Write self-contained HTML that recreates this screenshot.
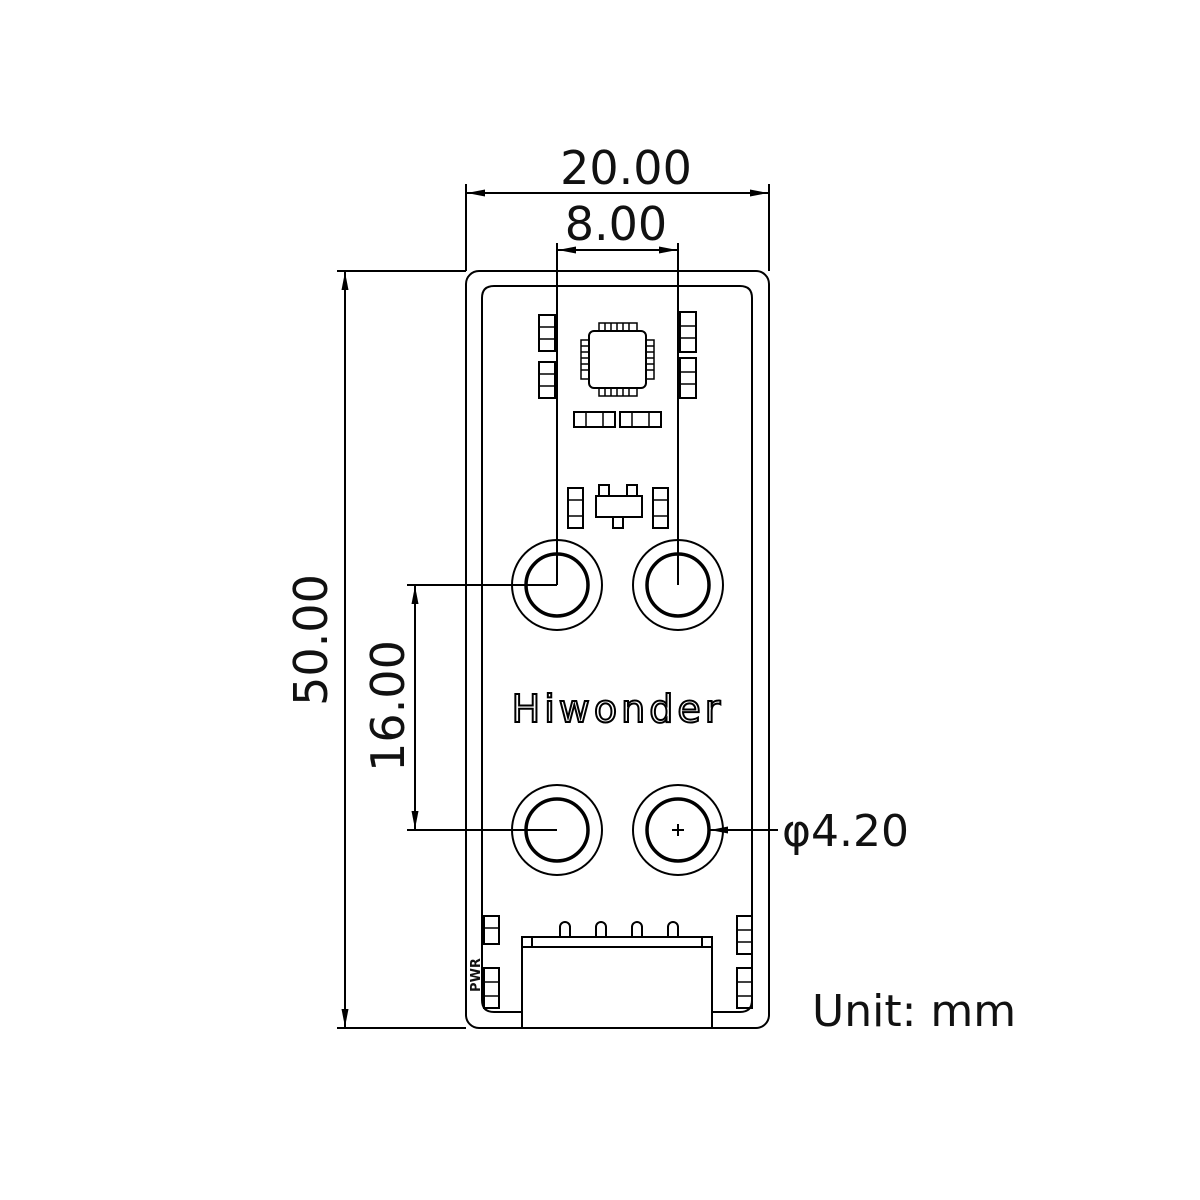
<!DOCTYPE html>
<html><head><meta charset="utf-8"><style>
html,body{margin:0;padding:0;background:#fff;}
svg{display:block}
text{font-family:"DejaVu Sans","Liberation Sans",sans-serif;fill:#111}
</style></head><body>
<svg width="1200" height="1200" viewBox="0 0 1200 1200" xmlns="http://www.w3.org/2000/svg">
<defs>
<marker id="a" viewBox="0 0 18 7" refX="18" refY="3.5" markerWidth="18" markerHeight="7" orient="auto" markerUnits="userSpaceOnUse"><path d="M0,0 L18,3.5 L0,7 z" fill="#000"/></marker>
</defs>
<g fill="none" stroke="#000" stroke-width="2">
<rect x="466" y="271" width="303" height="757" rx="13"/>
<path d="M522,1012 H494 Q482,1012 482,1000 V298 Q482,286 494,286 H740 Q752,286 752,298 V1000 Q752,1012 740,1012 H712"/>
<rect x="522" y="937" width="190" height="91"/>
<line x1="522" y1="947" x2="712" y2="947"/>
<line x1="532" y1="937" x2="532" y2="947"/><line x1="702" y1="937" x2="702" y2="947"/>
<path d="M560,937 V927 a5,5 0 0 1 10,0 V937"/>
<path d="M596,937 V927 a5,5 0 0 1 10,0 V937"/>
<path d="M632,937 V927 a5,5 0 0 1 10,0 V937"/>
<path d="M668,937 V927 a5,5 0 0 1 10,0 V937"/>
<line x1="466" y1="184" x2="466" y2="271"/>
<line x1="769" y1="184" x2="769" y2="271"/>
<line x1="480" y1="193" x2="755" y2="193"/>
<line x1="490" y1="193" x2="467" y2="193" marker-end="url(#a)"/>
<line x1="745" y1="193" x2="768" y2="193" marker-end="url(#a)"/>
<line x1="557" y1="243" x2="557" y2="585"/>
<line x1="678" y1="243" x2="678" y2="585"/>
<line x1="570" y1="250" x2="665" y2="250"/>
<line x1="580" y1="250" x2="558" y2="250" marker-end="url(#a)"/>
<line x1="655" y1="250" x2="677" y2="250" marker-end="url(#a)"/>
<line x1="337" y1="271" x2="466" y2="271"/>
<line x1="337" y1="1028" x2="466" y2="1028"/>
<line x1="345" y1="290" x2="345" y2="1010"/>
<line x1="345" y1="300" x2="345" y2="272" marker-end="url(#a)"/>
<line x1="345" y1="1000" x2="345" y2="1027" marker-end="url(#a)"/>
<line x1="407" y1="585" x2="557" y2="585"/>
<line x1="407" y1="830" x2="557" y2="830"/>
<line x1="415" y1="600" x2="415" y2="815"/>
<line x1="415" y1="610" x2="415" y2="586" marker-end="url(#a)"/>
<line x1="415" y1="805" x2="415" y2="829" marker-end="url(#a)"/>
<circle cx="557" cy="585" r="45"/><circle cx="678" cy="585" r="45"/>
<circle cx="557" cy="830" r="45"/><circle cx="678" cy="830" r="45"/>
<g stroke-width="3.5">
<circle cx="557" cy="585" r="31"/><circle cx="678" cy="585" r="31"/>
<circle cx="557" cy="830" r="31"/><circle cx="678" cy="830" r="31"/>
</g>
<line x1="672" y1="830" x2="684" y2="830"/><line x1="678" y1="824" x2="678" y2="836"/>
<line x1="778" y1="830" x2="730" y2="830"/>
<line x1="730" y1="830" x2="710" y2="830" marker-end="url(#a)"/>
<rect x="589" y="331" width="57" height="57" rx="5"/>
<g stroke-width="1.5">
<rect x="599" y="323" width="38" height="8"/><rect x="599" y="388" width="38" height="8"/>
<rect x="581" y="340" width="8" height="39"/><rect x="646" y="340" width="8" height="39"/>
<path d="M605,323V331M611,323V331M617,323V331M623,323V331M629,323V331M605,388V396M611,388V396M617,388V396M623,388V396M629,388V396"/>
<path d="M581,346H589M581,352H589M581,358H589M581,364H589M581,370H589M646,346H654M646,352H654M646,358H654M646,364H654M646,370H654"/>
</g>
<g stroke-width="2">
<rect x="539" y="315" width="16" height="36"/><rect x="539" y="362" width="16" height="36"/>
<rect x="680" y="312" width="16" height="40"/><rect x="680" y="358" width="16" height="40"/>
<rect x="574" y="412" width="41" height="15"/><rect x="620" y="412" width="41" height="15"/>
<rect x="568" y="488" width="15" height="40"/><rect x="653" y="488" width="15" height="40"/>
<rect x="596" y="496" width="46" height="21"/>
<rect x="599" y="485" width="10" height="11"/><rect x="627" y="485" width="10" height="11"/>
<rect x="613" y="517" width="10" height="11"/>
<rect x="484" y="916" width="15" height="28"/><rect x="484" y="968" width="15" height="40"/>
<rect x="737" y="916" width="15" height="38"/><rect x="737" y="968" width="15" height="40"/>
</g>
<g stroke-width="1.5">
<path d="M539,327H555M539,339H555M539,374H555M539,386H555M680,326H696M680,338H696M680,372H696M680,384H696M586,412V427M603,412V427M632,412V427M649,412V427M568,500H583M568,516H583M653,500H668M653,516H668M484,928H499M484,982H499M484,996H499M737,930H752M737,942H752M737,982H752M737,996H752"/>
</g>
</g>
<text x="626" y="184" font-size="46" text-anchor="middle">20.00</text>
<text x="616" y="240" font-size="46" text-anchor="middle">8.00</text>
<text transform="translate(327,640) rotate(-90)" font-size="46" text-anchor="middle">50.00</text>
<text transform="translate(404,706) rotate(-90)" font-size="46" text-anchor="middle">16.00</text>
<text x="782" y="846" font-size="44">φ4.20</text>
<text x="812" y="1026" font-size="44">Unit: mm</text>
<text transform="translate(480,975) rotate(-90)" font-size="13" text-anchor="middle" font-weight="bold">PWR</text>
<text x="618" y="722" font-size="38" text-anchor="middle" stroke="#000" stroke-width="2" style="fill:#fff;letter-spacing:4px">Hiwonder</text>
</svg>
</body></html>
